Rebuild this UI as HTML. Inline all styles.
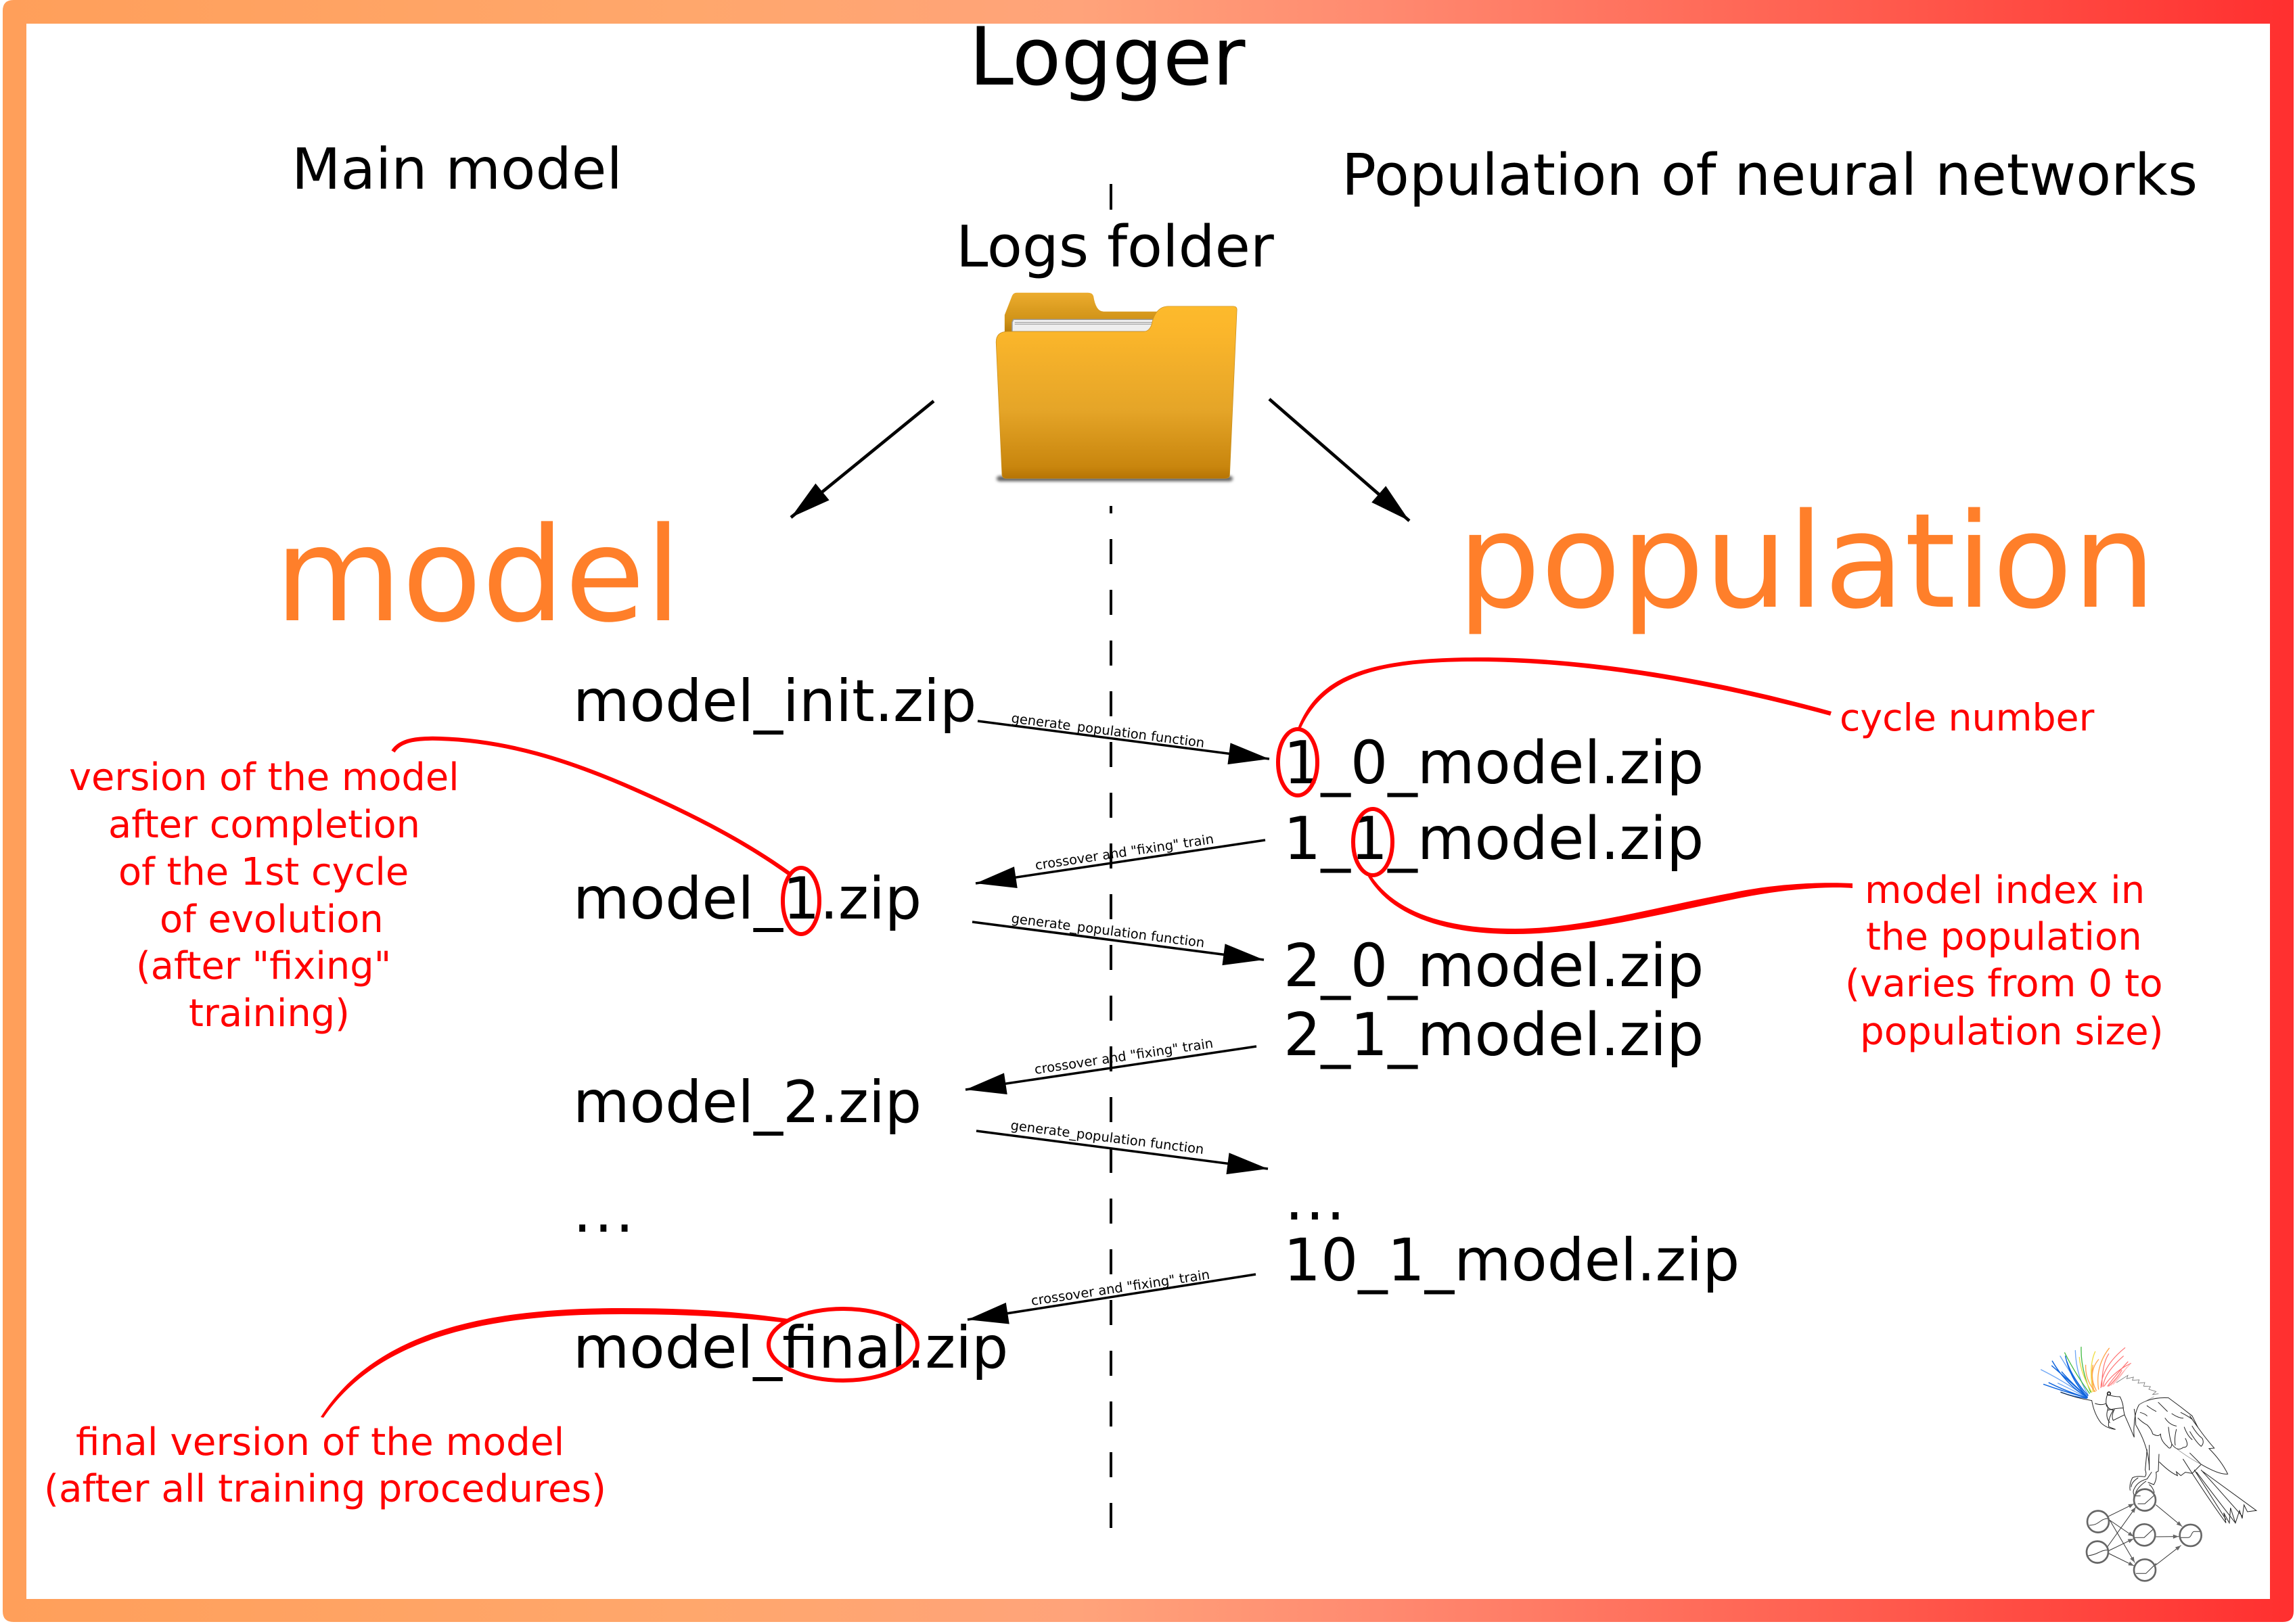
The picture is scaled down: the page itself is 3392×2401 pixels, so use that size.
<!DOCTYPE html>
<html><head><meta charset="utf-8"><style>
html,body{margin:0;padding:0;background:#fff}
svg{display:block}
text{font-family:"DejaVu Sans","Liberation Sans",sans-serif}
.f{font-size:85.800px;fill:#000}
.g{font-size:87px;fill:#000}
.r{font-size:55.800px;fill:#f00}
.s{font-size:19.500px;fill:#000}
.h{font-size:84px;fill:#000}
.o{fill:#ff7f2a}
</style></head><body>
<svg xmlns="http://www.w3.org/2000/svg" width="3392" height="2401" viewBox="0 0 3392 2401">
<defs>
<linearGradient id="b" gradientUnits="userSpaceOnUse" x1="0" x2="3392" y1="0" y2="0"><stop offset="0" stop-color="#ff9f5a"/><stop offset=".3" stop-color="#ffa76c"/><stop offset=".47" stop-color="#ffa37a"/><stop offset=".6" stop-color="#ff8a70"/><stop offset=".8" stop-color="#ff5f50"/><stop offset="1" stop-color="#ff2f2f"/></linearGradient>
<linearGradient id="ff" x1="0" x2="0" y1="0" y2="1"><stop offset="0" stop-color="#fdba2c"/><stop offset=".15" stop-color="#fbb62b"/><stop offset=".6" stop-color="#e5a528"/><stop offset=".93" stop-color="#c9860e"/><stop offset="1" stop-color="#b67405"/></linearGradient>
<linearGradient id="fb" x1="0" x2="0" y1="0" y2="1"><stop offset="0" stop-color="#ecac2e"/><stop offset=".7" stop-color="#cf9216"/><stop offset="1" stop-color="#b67a0a"/></linearGradient>
<filter id="bl" x="-10%" y="-200%" width="120%" height="500%"><feGaussianBlur stdDeviation="6"/></filter>
<marker id="a" markerUnits="userSpaceOnUse" markerWidth="70" markerHeight="40" viewBox="-62 -20 64 40" refX="0" refY="0" orient="auto"><path d="M0 0L-60-16-60 16Z" fill="#000"/></marker>
<marker id="g" markerUnits="userSpaceOnUse" markerWidth="30" markerHeight="24" viewBox="-30 -12 32 24" refX="0" refY="0" orient="auto"><path d="M0 0L-26-10-26 10Z" fill="#666"/></marker>
</defs>
<rect width="3392" height="2401" fill="#fff"/>
<path fill-rule="evenodd" fill="url(#b)" d="M20 0H3390V2382Q3390 2398 3374 2398H20Q4 2398 4 2382V16Q4 0 20 0ZM39 35V2364H3355V35Z"/>

<text x="1432" y="125" style="font-size:118.500px">Logger</text>
<text x="431" y="279" class="h">Main model</text>
<text x="1983" y="288" class="h" style="font-size:84.700px">Population of neural networks</text>
<text x="1413" y="394" class="h" style="font-size:85px">Logs folder</text>
<text x="406" y="917" class="o" style="font-size:193px">model</text>
<text x="2154" y="897" class="o" style="font-size:194px">population</text>

<path d="M1642 272V310" stroke="#000" stroke-width="4"/>
<path d="M1642 797V2260" stroke="#000" stroke-width="4" stroke-dasharray="37 38" fill="none"/>
<path d="M1642 748V759" stroke="#000" stroke-width="4"/>

<!-- folder -->
<g transform="translate(1300 380) scale(.3827 .3357)">
<rect x="452" y="964" width="912" height="24" rx="12" fill="#000" opacity=".6" filter="url(#bl)"/>
<path d="M483 330V255L512 170Q517 157 530 157H805Q822 157 826 172Q835 240 865 240H1075L1060 290 1040 335Z" fill="url(#fb)"/>
<path d="M512 328V287L517 275H1060L1045 328Z" fill="#eee" stroke="#999" stroke-width="4"/>
<path d="M522 296H1050M522 288H1055" stroke="#aaa" stroke-width="4"/>
<path d="M450 375Q450 328 495 328H1020Q1040 328 1050 300Q1065 217 1115 217H1365Q1380 217 1380 232L1352 960Q1352 975 1335 975H490Q475 975 473 960Z" fill="url(#ff)" stroke="#c98f1e" stroke-width="2"/>
</g>

<!-- big arrows -->
<path d="M1380 593L1169 765" stroke="#000" stroke-width="4.700" marker-end="url(#a)" fill="none"/>
<path d="M1876 590L2083 770" stroke="#000" stroke-width="4.700" marker-end="url(#a)" fill="none"/>

<!-- file names -->
<text x="847" y="1066" class="f">model_init.zip</text>
<text x="1897" y="1158" class="g">1_0_model.zip</text>
<text x="1897" y="1270" class="g">1_1_model.zip</text>
<text x="847" y="1358" class="f">model_1.zip</text>
<text x="1897" y="1458" class="g">2_0_model.zip</text>
<text x="1897" y="1560" class="g">2_1_model.zip</text>
<text x="847" y="1659" class="f">model_2.zip</text>
<text x="847" y="1821" class="f" style="letter-spacing:4px">...</text>
<text x="1899" y="1803" class="g" style="letter-spacing:3px">...</text>
<text x="1897" y="1893" class="g" style="font-size:86.700px">10_1_model.zip</text>
<text x="847" y="2022" class="f" style="font-size:85.500px">model_final.zip</text>

<!-- small arrows -->
<g stroke="#000" stroke-width="3.500" fill="none">
<path d="M1445 1066L1876 1122" marker-end="url(#a)"/>
<path d="M1870 1242L1442 1306" marker-end="url(#a)"/>
<path d="M1437 1363L1868 1419" marker-end="url(#a)"/>
<path d="M1857 1547L1427 1611" marker-end="url(#a)"/>
<path d="M1443 1672L1874 1728" marker-end="url(#a)"/>
<path d="M1856 1884L1430 1951" marker-end="url(#a)"/>
</g>
<text class="s" transform="translate(1494 1068) rotate(7.400)">generate_population function</text>
<text class="s" transform="translate(1531 1286) rotate(-8.500)">crossover and "fixing" train</text>
<text class="s" transform="translate(1494 1364) rotate(7.300)">generate_population function</text>
<text class="s" transform="translate(1530 1588) rotate(-8.500)">crossover and "fixing" train</text>
<text class="s" transform="translate(1493 1670) rotate(7.200)">generate_population function</text>
<text class="s" transform="translate(1525 1930) rotate(-8.500)">crossover and "fixing" train</text>

<!-- red annotations -->
<g fill="none" stroke="#f00" stroke-width="6">
<ellipse cx="1918" cy="1127" rx="29" ry="49"/>
<ellipse cx="2029" cy="1245" rx="29" ry="49"/>
<ellipse cx="1184" cy="1332" rx="27" ry="49"/>
<ellipse cx="1246" cy="1988" rx="110" ry="53"/>
</g>
<g fill="#f00">
<path d="M1918 1077C1948 1000 2020 972 2188 972C2340 972 2520 1000 2707 1052L2705 1058C2520 1008 2340 979 2188 978C2025 977 1955 1005 1922 1078Z"/>
<path d="M2026 1294C2060 1346 2130 1373 2239 1373C2340 1373 2450 1340 2560 1320C2630 1305 2700 1304 2738 1306L2738 1313C2700 1310 2630 1315 2560 1330C2450 1352 2340 1381 2239 1381C2130 1381 2055 1352 2022 1296Z"/>
<path d="M1165 1950C1080 1937 1000 1934 919 1934C740 1934 560 1960 474 2095L478 2096C565 1968 745 1943 919 1943C1000 1943 1080 1946 1164 1956Z"/>
</g>
<path d="M581 1111C592 1093 620 1091 650 1092C750 1095 840 1125 922 1160C1010 1198 1095 1240 1167 1292" fill="none" stroke="#f00" stroke-width="6"/>

<text x="102" y="1168" class="r">version of the model</text>
<text x="160" y="1238" class="r">after completion</text>
<text x="175" y="1308" class="r">of the 1st cycle</text>
<text x="236" y="1378" class="r">of evolution</text>
<text x="201" y="1447" class="r">(after "fixing"</text>
<text x="279" y="1517" class="r">training)</text>
<text x="2719" y="1080" class="r" style="font-size:55.300px">cycle number</text>
<text x="2756" y="1335" class="r" style="font-size:56px">model index in</text>
<text x="2758" y="1404" class="r" style="font-size:56px">the population</text>
<text x="2727" y="1473" class="r" style="font-size:56.300px">(varies from 0 to</text>
<text x="2749" y="1544" class="r" style="font-size:56.300px">population size)</text>
<text x="112" y="2151" class="r" style="font-size:56.400px">final version of the model</text>
<text x="65" y="2220" class="r" style="font-size:56.400px">(after all training procedures)</text>

<!-- parrot -->
<g transform="translate(2960 1950) scale(.3333)" fill="none" stroke-linecap="round">
<g stroke="#6ea6f5" stroke-width="4">
<path d="M375 350Q280 280 170 225M372 345Q300 240 255 165M378 335Q325 250 322 140M370 348Q300 310 245 285"/>
</g>
<g stroke="#1166dd" stroke-width="4.500">
<path d="M375 350Q280 325 182 290M375 350Q290 325 205 283M375 348Q280 290 220 187M375 348Q290 270 218 208M375 345Q300 270 278 165M372 352Q310 345 258 325M375 345Q305 285 262 235M378 340Q310 265 285 190"/>
</g>
<g stroke="#44bb44" stroke-width="4">
<path d="M385 330Q320 240 275 150M390 325Q345 220 348 125"/>
</g>
<g stroke="#f0dd44" stroke-width="4"><path d="M395 325Q345 240 340 170M400 322Q380 210 410 145"/></g>
<g stroke="#ffa64d" stroke-width="4"><path d="M410 322Q365 270 368 205M415 318Q375 240 425 180M425 312Q410 210 472 130M405 322Q390 250 400 205"/></g>
<g stroke="#ff7070" stroke-width="3.500"><path d="M435 305Q440 210 542 128M445 300Q450 240 535 165M450 298Q490 235 568 197M465 298Q500 250 555 190M470 298Q510 260 528 228M440 300Q440 200 470 155"/></g>
<g stroke="#ffb0b0" stroke-width="3"><path d="M480 295Q520 250 565 200M490 290Q520 260 550 215"/></g>
<g stroke="#777" stroke-width="2.500"><path d="M505 282L555 250 550 265 580 258 575 272 605 270 600 285 630 282 625 298 655 300 648 312 680 322 665 335 690 332"/></g>
<g stroke="#222" stroke-width="3">
<path d="M258 325Q320 350 395 362Q405 420 435 460Q460 485 500 490L470 478Q465 445 490 405Q470 400 460 385Q455 355 465 335Q490 345 520 345Q535 375 535 400L540 425Q560 470 583 525Q580 490 583 470Q585 415 605 380Q660 345 735 350Q790 390 840 430L865 480Q900 530 938 573L915 575Q970 630 998 688Q960 692 880 645L830 595"/>
<circle cx="471" cy="331" r="7" stroke-width="5"/>
<path d="M410 375Q440 385 458 375M465 405Q505 395 535 395M465 405Q455 435 475 460M495 402Q480 430 490 450Q520 435 540 425M460 378Q470 395 465 405"/>
<path d="M583 400Q590 440 590 470Q650 570 650 670M610 415Q630 420 640 430M640 385Q660 400 680 410M690 370Q720 400 730 410M600 440Q620 460 640 470Q660 490 665 510Q690 525 700 510M720 440Q740 470 770 475M750 420Q780 440 800 440M790 415Q820 430 840 445M830 430Q850 460 865 480M700 510Q700 540 730 565Q745 585 750 555Q775 590 800 570Q830 570 810 530M830 500Q860 550 880 565Q895 550 885 530Q860 510 840 475M735 480Q740 530 750 555M770 490Q760 530 765 560M805 480Q820 520 840 535"/>
<path d="M640 580L632 670Q640 690 630 700Q590 695 575 705Q560 735 565 760M650 560L650 670M693 600L690 675 680 680Q685 710 670 735L645 725M695 635Q740 680 775 695L770 678 790 695 810 680 840 685 880 645M660 680L640 710Q600 720 585 750Q575 765 582 780M600 705Q570 725 570 745M635 720Q600 745 590 770M650 735Q665 745 672 770"/>
<path d="M800 622Q900 780 990 905L980 860 1005 905 1010 838 1032 905 1050 850 1062 885 1070 825 1085 855 1125 850 885 675M850 670Q920 780 990 890M860 680Q950 800 1032 905M880 670Q970 770 1062 875"/>
</g>
<path d="M770 575Q830 620 880 645M605 380L670 345" stroke="#777" stroke-width="2"/>
<g stroke="#333" stroke-width="3">
<path d="M470 875L582 820" marker-end="url(#g)"/>
<path d="M475 893L580 965" marker-end="url(#g)"/>
<path d="M475 893L585 1080" marker-end="url(#g)"/>
<path d="M465 1010L590 835" marker-end="url(#g)"/>
<path d="M470 1028L580 975" marker-end="url(#g)"/>
<path d="M470 1040L582 1095" marker-end="url(#g)"/>
<path d="M680 825L795 920" marker-end="url(#g)"/>
<path d="M680 966L780 965" marker-end="url(#g)"/>
<path d="M678 1092L790 1005" marker-end="url(#g)"/>
<path d="M580 785L610 785M600 820H630L672 782M385 915C430 915 430 885 470 885M380 1050C425 1045 430 1025 467 1025M580 970H627L668 932M785 970H820C840 970 835 943 850 943H880M592 1129H635L680 1085"/>
</g>
<g stroke="#666" stroke-width="8">
<circle cx="630" cy="803" r="48"/><circle cx="423" cy="899" r="48"/><circle cx="420" cy="1034" r="48"/><circle cx="628" cy="958" r="48"/><circle cx="630" cy="1114" r="48"/><circle cx="833" cy="960" r="48"/>
</g>
</g>
</svg>
</body></html>
